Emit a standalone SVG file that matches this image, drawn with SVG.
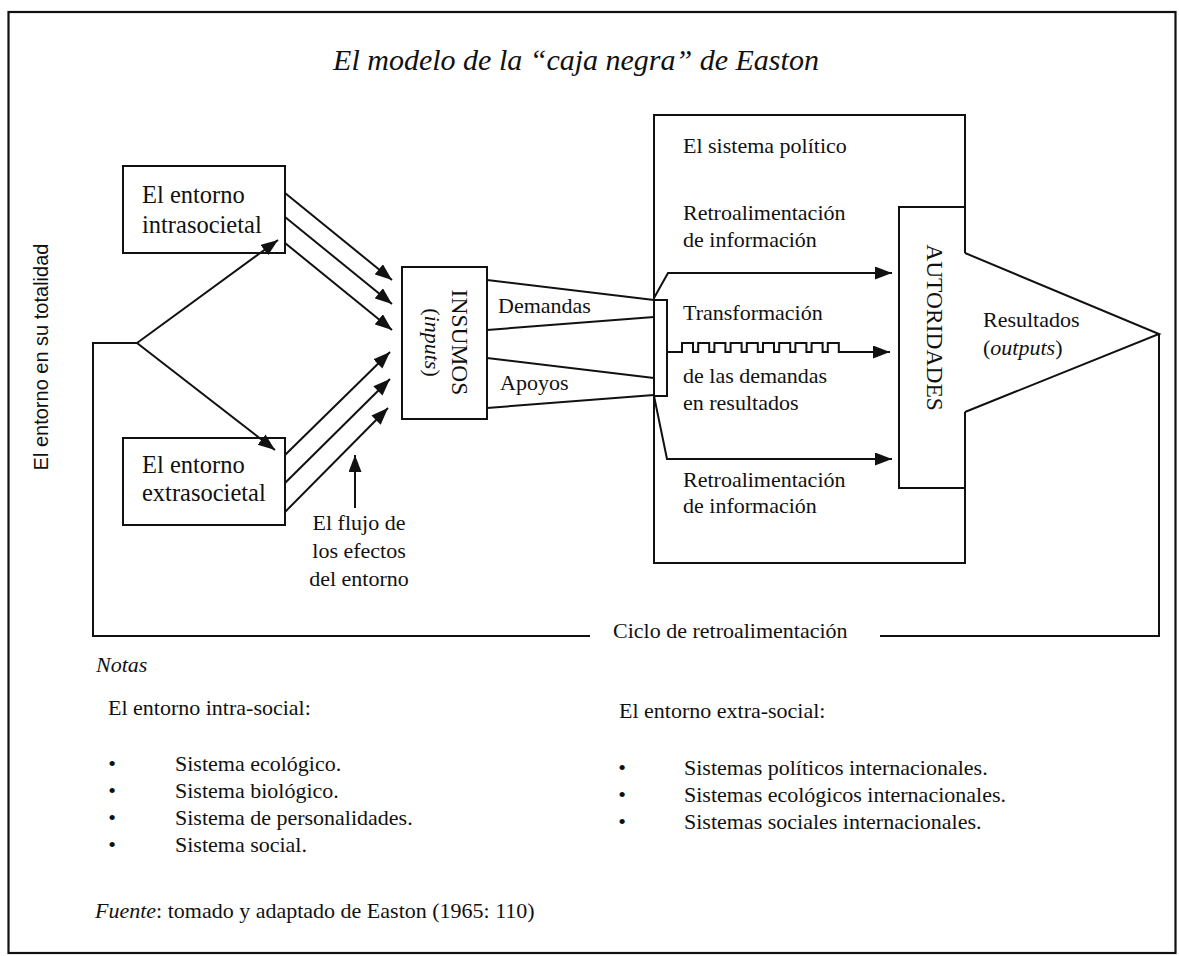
<svg xmlns="http://www.w3.org/2000/svg" width="1179" height="956" viewBox="0 0 1179 956">
<style>
  .ln { fill: none; stroke: #111; stroke-width: 2; }
  .box { fill: none; stroke: #111; stroke-width: 2; }
  .t { font-family: "Liberation Serif", "Times New Roman", serif; font-size: 22px; fill: #111; }
  .tb { font-family: "Liberation Serif", "Times New Roman", serif; font-size: 24.5px; fill: #111; }
  .it { font-style: italic; }
  .sans { font-family: "Liberation Sans", Arial, sans-serif; font-size: 20px; fill: #111; }
</style>
<defs>
  <marker id="ah" markerUnits="userSpaceOnUse" markerWidth="18" markerHeight="14" refX="17" refY="6.5" orient="auto">
    <path d="M0,0 L17,6.5 L0,13 z" fill="#111"/>
  </marker>
</defs>
<rect x="0" y="0" width="1179" height="956" fill="#fff"/>
<rect x="8.5" y="12" width="1167" height="941" fill="none" stroke="#111" stroke-width="2.2"/>

<g id="title">
  <text class="t it" x="576" y="70" text-anchor="middle" style="font-size:30px">El modelo de la “caja negra” de Easton</text>
</g>

<g id="entorno-total">
  <text class="sans" transform="translate(48,357) rotate(-90)" text-anchor="middle">El entorno en su totalidad</text>
</g>

<g id="connectors">
  <!-- feedback loop -->
  <path class="ln" d="M137,343 H93 V636 H590"/>
  <path class="ln" d="M880,636 H1159 V334"/>
  <!-- environment split -->
  <line class="ln" x1="137" y1="343" x2="278" y2="240" marker-end="url(#ah)"/>
  <line class="ln" x1="137" y1="343" x2="275" y2="450" marker-end="url(#ah)"/>
  <!-- flows from intrasocietal -->
  <line class="ln" x1="285" y1="193" x2="392" y2="280" marker-end="url(#ah)"/>
  <line class="ln" x1="285" y1="217" x2="392" y2="304" marker-end="url(#ah)"/>
  <line class="ln" x1="285" y1="243" x2="392" y2="330" marker-end="url(#ah)"/>
  <!-- flows from extrasocietal -->
  <line class="ln" x1="285" y1="455" x2="390" y2="352" marker-end="url(#ah)"/>
  <line class="ln" x1="285" y1="483" x2="390" y2="379" marker-end="url(#ah)"/>
  <line class="ln" x1="285" y1="512" x2="388" y2="408" marker-end="url(#ah)"/>
  <!-- flow effects arrow -->
  <line class="ln" x1="355" y1="508" x2="355" y2="455" marker-end="url(#ah)"/>
  <!-- demandas / apoyos channels -->
  <line class="ln" x1="487" y1="280" x2="654" y2="300"/>
  <line class="ln" x1="487" y1="330" x2="654" y2="317"/>
  <line class="ln" x1="487" y1="358" x2="654" y2="378"/>
  <line class="ln" x1="487" y1="408" x2="654" y2="395"/>
  <!-- internal arrows -->
  <path class="ln" d="M654,298 L668,273 H892" marker-end="url(#ah)"/>
  <path class="ln" d="M654,396 L667,459 H892" marker-end="url(#ah)"/>
  <path class="ln" d="M667,352 H682 v-9 h11 v9 h5.2 v-9 h11 v9 h5.2 v-9 h11 v9 h5.2 v-9 h11 v9 h5.2 v-9 h11 v9 h5.2 v-9 h11 v9 h5.2 v-9 h11 v9 h5.2 v-9 h11 v9 h5.2 v-9 h11 v9 h5.2 v-9 h11 v9 H890" marker-end="url(#ah)"/>
</g>

<g id="intrasocietal">
  <rect class="box" x="123" y="166" width="162" height="87"/>
  <text class="tb" x="142" y="203">El entorno</text>
  <text class="tb" x="142" y="233">intrasocietal</text>
</g>

<g id="extrasocietal">
  <rect class="box" x="123" y="438" width="162" height="87"/>
  <text class="tb" x="142" y="473">El entorno</text>
  <text class="tb" x="142" y="501">extrasocietal</text>
</g>

<g id="flujo">
  <text class="t" x="359" y="530" text-anchor="middle">El flujo de</text>
  <text class="t" x="359" y="558" text-anchor="middle">los efectos</text>
  <text class="t" x="359" y="586" text-anchor="middle">del entorno</text>
</g>

<g id="insumos">
  <rect class="box" x="402" y="267" width="85" height="152"/>
  <text class="t" transform="translate(452,342.5) rotate(90)" text-anchor="middle" style="font-size:23.5px">INSUMOS</text>
  <text class="t" transform="translate(425,342.5) rotate(90)" text-anchor="middle">(<tspan class="it">inputs</tspan>)</text>
</g>

<g id="demandas-apoyos">
  <text class="t" x="498" y="313">Demandas</text>
  <text class="t" x="500" y="390">Apoyos</text>
</g>

<g id="sistema-politico">
  <path class="ln" d="M965,253 V115 H654 V563 H965 V412"/>
  <rect class="box" x="654" y="300" width="13" height="96"/>
  <text class="t" x="683" y="153">El sistema político</text>
  <text class="t" x="683" y="220">Retroalimentación</text>
  <text class="t" x="683" y="247">de información</text>
  <text class="t" x="683" y="320">Transformación</text>
  <text class="t" x="683" y="383">de las demandas</text>
  <text class="t" x="683" y="410">en resultados</text>
  <text class="t" x="683" y="487">Retroalimentación</text>
  <text class="t" x="683" y="513">de información</text>
</g>

<g id="autoridades">
  <path class="ln" d="M965,207 H899 V488 H965"/>
  <path class="ln" d="M965,253 L1159,334 L965,412"/>
  <text class="t" transform="translate(927,327.5) rotate(90)" text-anchor="middle" style="font-size:23.5px">AUTORIDADES</text>
  <text class="t" x="983" y="327">Resultados</text>
  <text class="t" x="983" y="355">(<tspan class="it">outputs</tspan>)</text>
</g>

<g id="ciclo">
  <text class="t" x="613" y="638">Ciclo de retroalimentación</text>
</g>

<g id="notas">
  <text class="t it" x="96" y="672">Notas</text>
  <text class="t" x="108" y="715">El entorno intra-social:</text>
  <text class="t" x="112" y="771" text-anchor="middle">•</text>
  <text class="t" x="112" y="798" text-anchor="middle">•</text>
  <text class="t" x="112" y="825" text-anchor="middle">•</text>
  <text class="t" x="112" y="852" text-anchor="middle">•</text>
  <text class="t" x="175" y="771">Sistema ecológico.</text>
  <text class="t" x="175" y="798">Sistema biológico.</text>
  <text class="t" x="175" y="825">Sistema de personalidades.</text>
  <text class="t" x="175" y="852">Sistema social.</text>
  <text class="t" x="619" y="718">El entorno extra-social:</text>
  <text class="t" x="622" y="775" text-anchor="middle">•</text>
  <text class="t" x="622" y="802" text-anchor="middle">•</text>
  <text class="t" x="622" y="829" text-anchor="middle">•</text>
  <text class="t" x="684" y="775">Sistemas políticos internacionales.</text>
  <text class="t" x="684" y="802">Sistemas ecológicos internacionales.</text>
  <text class="t" x="684" y="829">Sistemas sociales internacionales.</text>
  <text class="t" x="95" y="918"><tspan class="it">Fuente</tspan>: tomado y adaptado de Easton (1965: 110)</text>
</g>
</svg>
